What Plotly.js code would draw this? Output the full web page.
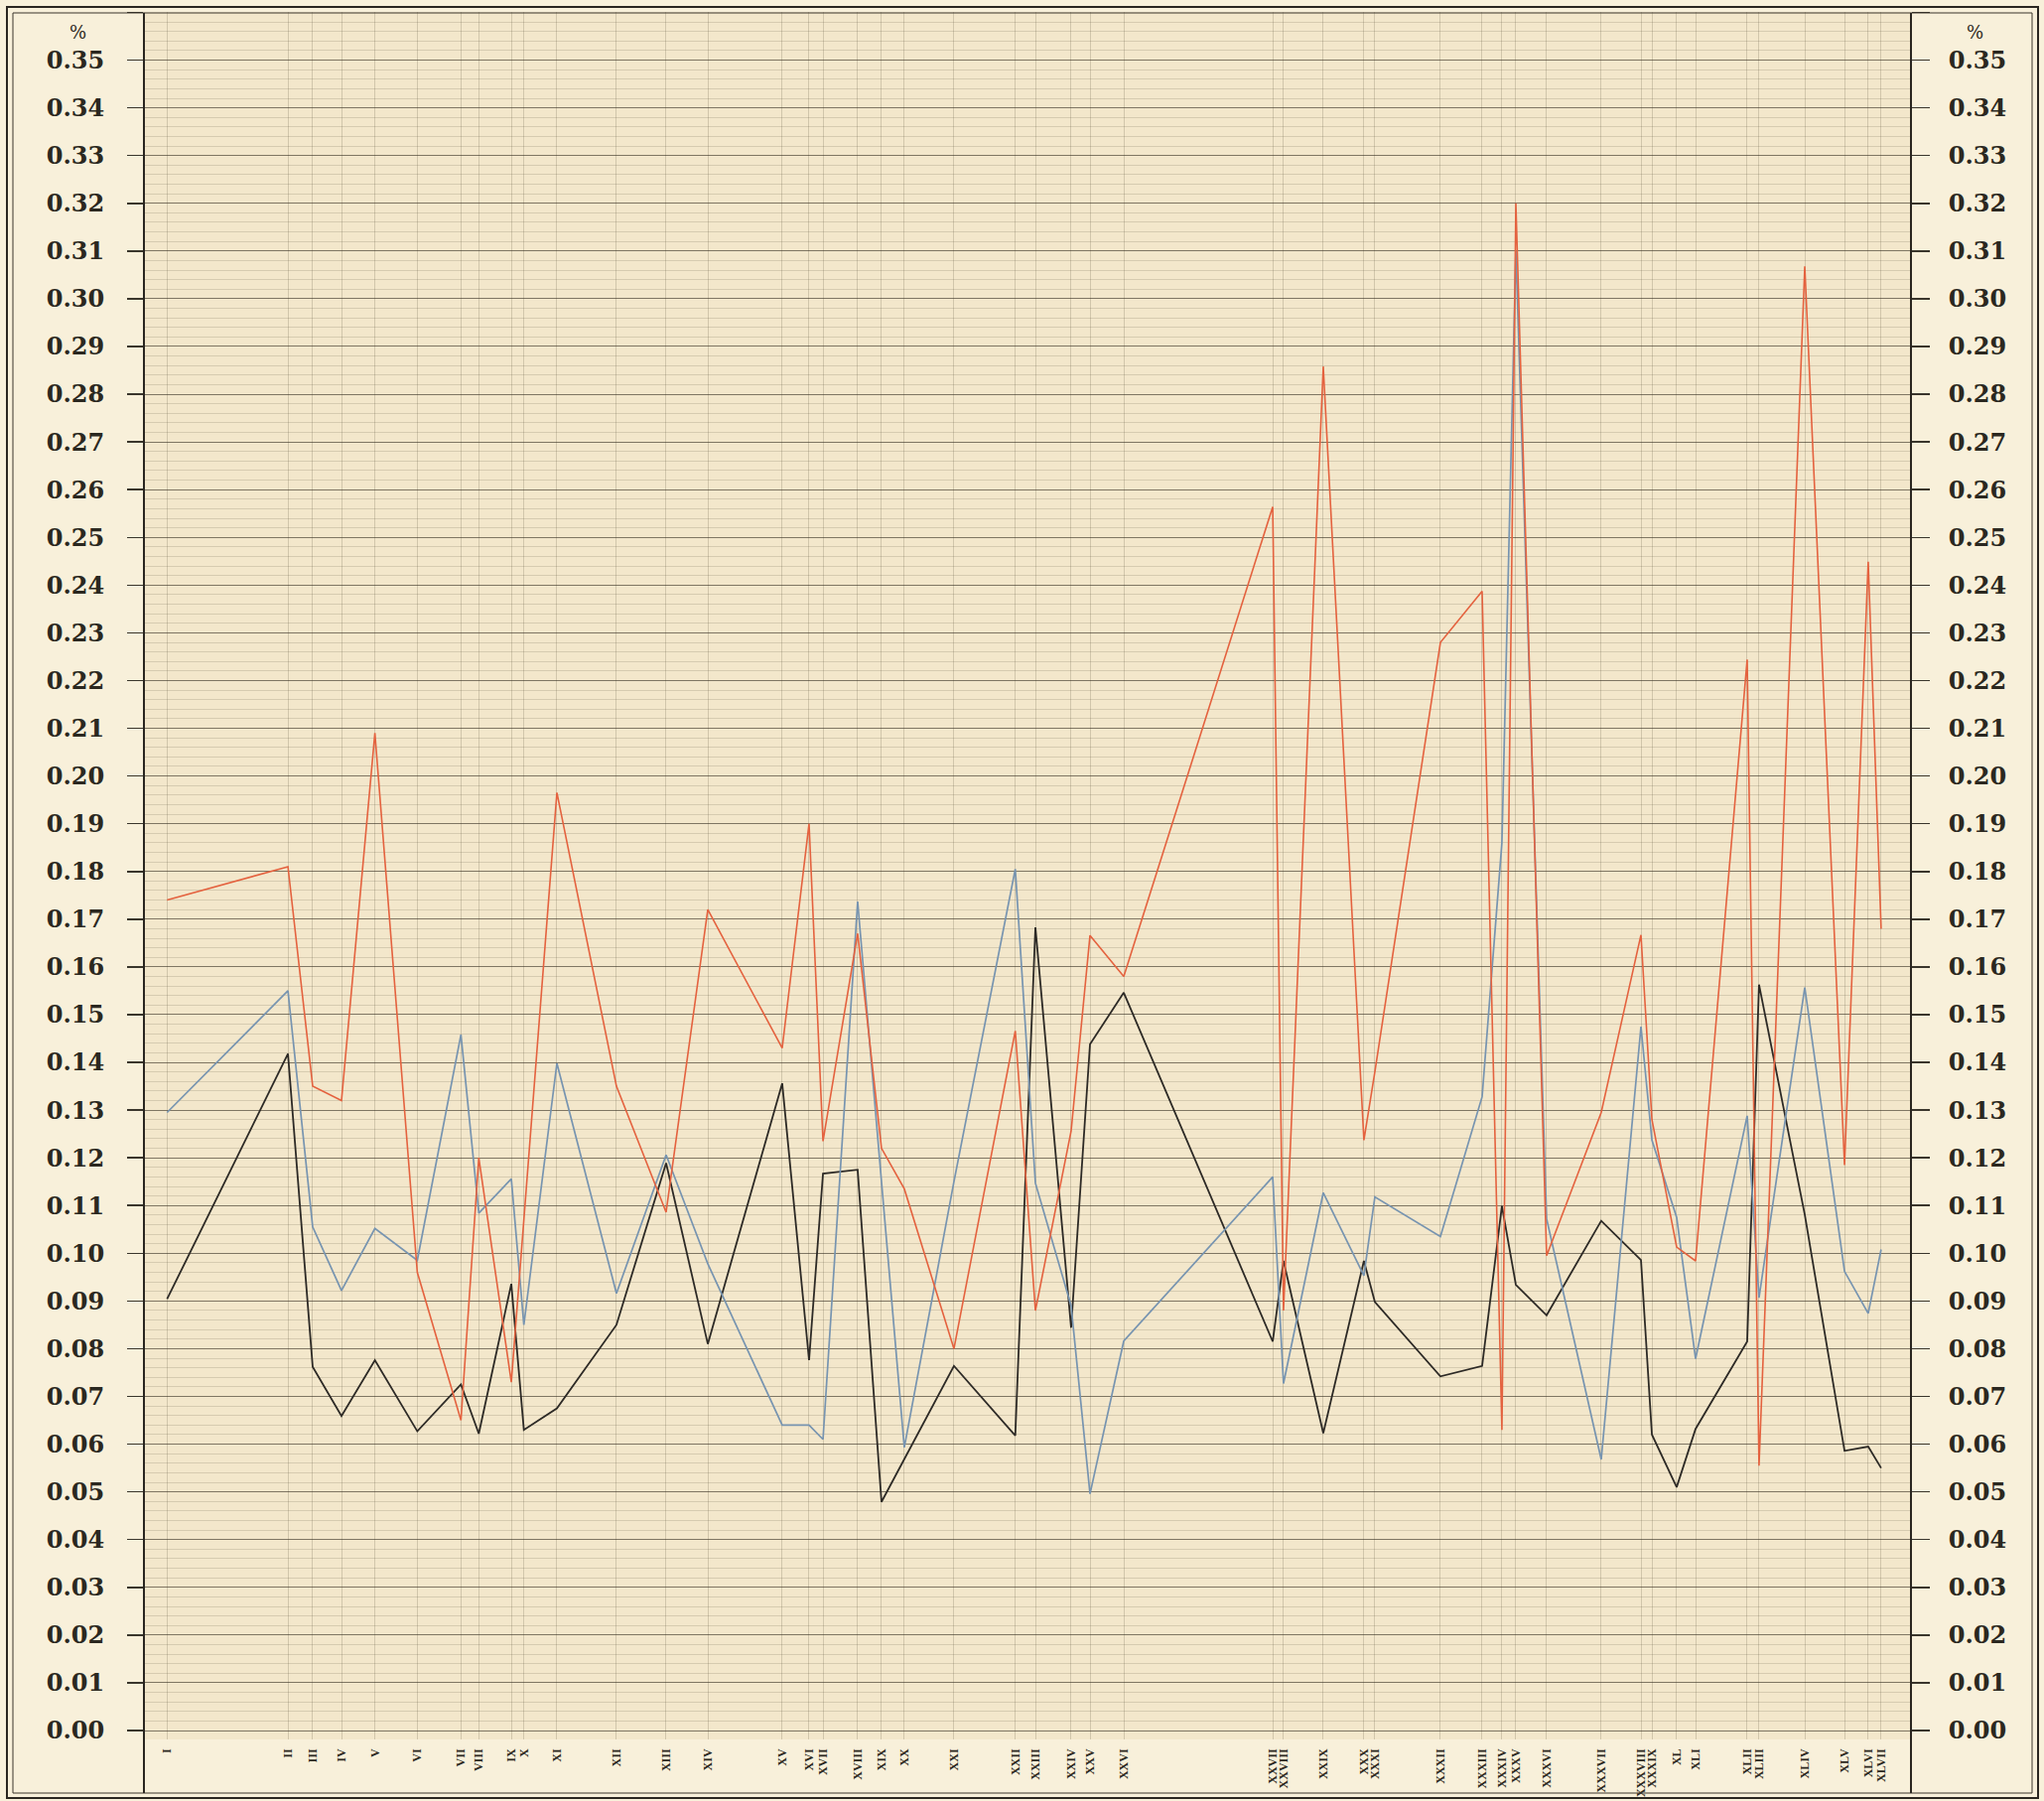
<!DOCTYPE html>
<html>
<head>
<meta charset="utf-8">
<script src="https://cdn.plot.ly/plotly-3.0.1.min.js"></script>
<style>
  html, body { margin: 0; padding: 0; background: #f8f0da; }
  #chart { width: 2059px; height: 1814px; }
</style>
</head>
<body>
<div id="chart"></div>
<script>
// ---- data ----
const categories = ['I','II','III','IV','V','VI','VII','VIII','IX','X',
  'XI','XII','XIII','XIV','XV','XVI','XVII','XVIII','XIX','XX',
  'XXI','XXII','XXIII','XXIV','XXV','XXVI','XXVII','XXVIII','XXIX','XXX',
  'XXXI','XXXII','XXXIII','XXXIV','XXXV','XXXVI','XXXVII','XXXVIII','XXXIX','XL',
  'XLI','XLII','XLIII','XLIV','XLV','XLVI','XLVII'];

// position of each numbered station along the horizontal scale (0–100)
const xPos = [1.31, 8.15, 9.55, 11.18, 13.07, 15.47, 17.94, 18.95, 20.79, 21.50,
  23.37, 26.74, 29.55, 31.91, 36.12, 37.64, 38.43, 40.39, 41.74, 43.03,
  45.84, 49.31, 50.45, 52.47, 53.54, 55.45, 63.88, 64.49, 66.74, 69.04,
  69.66, 73.37, 75.73, 76.85, 77.64, 79.38, 82.47, 84.72, 85.34, 86.74,
  87.81, 90.73, 91.40, 93.99, 96.24, 97.58, 98.31];

const redSeries = [0.174, 0.181, 0.135, 0.132, 0.209, 0.096, 0.065, 0.120, 0.073, 0.107,
  0.1965, 0.135, 0.1086, 0.172, 0.143, 0.190, 0.1235, 0.167, 0.122, 0.1135,
  0.080, 0.1466, 0.088, 0.1256, 0.1666, 0.158, 0.2564, 0.088, 0.2858, 0.1237,
  0.138, 0.228, 0.2387, 0.063, 0.320, 0.0995, 0.1295, 0.1667, 0.128, 0.1013,
  0.0984, 0.2244, 0.0555, 0.3068, 0.1185, 0.2449, 0.168];

const blueSeries = [0.1295, 0.155, 0.1055, 0.0922, 0.1052, 0.0985, 0.1458, 0.1084, 0.1156, 0.085,
  0.1398, 0.0916, 0.1206, 0.0978, 0.064, 0.064, 0.061, 0.1737, 0.115, 0.0593,
  0.115, 0.1805, 0.1147, 0.089, 0.0496, 0.0816, 0.116, 0.0727, 0.1127, 0.0953,
  0.1118, 0.1035, 0.1328, 0.186, 0.310, 0.1072, 0.0568, 0.1475, 0.1237, 0.1075,
  0.0779, 0.1288, 0.0907, 0.1557, 0.0962, 0.0874, 0.1008];

const blackSeries = [0.0904, 0.1418, 0.0762, 0.0659, 0.0776, 0.0627, 0.0725, 0.0622, 0.0936, 0.063,
  0.0675, 0.085, 0.1189, 0.081, 0.1356, 0.0776, 0.1167, 0.1175, 0.0479, 0.0568,
  0.0764, 0.0618, 0.1683, 0.0844, 0.1438, 0.1546, 0.0815, 0.0984, 0.0623, 0.0984,
  0.0898, 0.0742, 0.0764, 0.1099, 0.0934, 0.087, 0.1068, 0.0986, 0.062, 0.051,
  0.0632, 0.0815, 0.1563, 0.1081, 0.0586, 0.0595, 0.055];

const unitLabel = '%';

// ---- layout geometry (pixels of the page) ----
const W = 2059, H = 1814;
const PL = 145, PR = 1925, PT = 12, PB = 1752;
const px = x => (x - PL) / (PR - PL);
const py = y => (PB - y) / (PB - PT);

const INK = '#2b2820';
const serif = 'DejaVu Serif';

const traces = [
  { x: xPos, y: blackSeries, mode: 'lines', line: { color: '#2d2a26', width: 1.8 }, hoverinfo: 'skip', showlegend: false },
  { x: xPos, y: blueSeries, mode: 'lines', line: { color: '#7794b0', width: 1.7 }, hoverinfo: 'skip', showlegend: false },
  { x: xPos, y: redSeries, mode: 'lines', line: { color: '#e4623f', width: 1.6 }, hoverinfo: 'skip', showlegend: false },
  { x: [xPos[0]], y: [blackSeries[0]], yaxis: 'y2', mode: 'lines', line: { color: 'rgba(0,0,0,0)', width: 0 }, hoverinfo: 'skip', showlegend: false }
];

const yRange = [-0.00187, 0.3601];
const yTickFont = { family: serif, size: 24, color: INK, weight: 'bold' };

const frameLine = (x0, y0, x1, y1, w) => ({
  type: 'line', xref: 'paper', yref: 'paper',
  x0: px(x0), y0: py(y0), x1: px(x1), y1: py(y1),
  line: { color: '#2a2620', width: w }
});

const shapes = [
  // outer double border
  { type: 'rect', xref: 'paper', yref: 'paper', x0: px(7), y0: py(1811), x1: px(2053), y1: py(7),
    line: { color: '#2a2620', width: 2 } },
  { type: 'rect', xref: 'paper', yref: 'paper', x0: px(13), y0: py(1806), x1: px(2047), y1: py(13),
    line: { color: '#3a352b', width: 1 } },
  // columns separating the scales from the drawing
  frameLine(PL, 13, PL, 1806, 2),
  frameLine(PR, 13, PR, 1806, 2)
];

const layout = {
  width: W, height: H,
  margin: { l: PL, r: W - PR, t: PT, b: H - PB, pad: 0 },
  paper_bgcolor: '#f8f0da',
  plot_bgcolor: '#f3e7cb',
  showlegend: false,
  xaxis: {
    range: [0, 100],
    tickmode: 'array', tickvals: xPos, ticktext: categories,
    tickangle: -90,
    ticks: '', showline: false, zeroline: false,
    showgrid: true, gridcolor: 'rgba(90,80,60,0.22)', gridwidth: 1,
    tickfont: { family: 'Liberation Serif', size: 12, color: INK, weight: 'bold' },
    ticklabelstandoff: 6,
    fixedrange: true
  },
  yaxis: {
    range: yRange,
    tickmode: 'linear', tick0: 0, dtick: 0.01, tickformat: '.2f',
    ticks: 'outside', ticklen: 16, tickwidth: 1.5, tickcolor: '#3a362c',
    showline: false, zeroline: false,
    showgrid: true, gridcolor: 'rgba(55,48,35,0.62)', gridwidth: 1,
    minor: { dtick: 0.002, tick0: 0, showgrid: true, gridcolor: 'rgba(110,98,75,0.3)', gridwidth: 0.7, ticks: '' },
    tickfont: yTickFont,
    ticklabelstandoff: 18,
    fixedrange: true
  },
  yaxis2: {
    range: yRange, overlaying: 'y', side: 'right',
    tickmode: 'linear', tick0: 0, dtick: 0.01, tickformat: '.2f',
    ticks: 'outside', ticklen: 18, tickwidth: 1.5, tickcolor: '#3a362c',
    showline: false, zeroline: false, showgrid: false,
    tickfont: yTickFont,
    ticklabelstandoff: 14,
    fixedrange: true
  },
  shapes: shapes,
  annotations: [
    { xref: 'paper', yref: 'paper', x: px(78), y: py(33), text: unitLabel, showarrow: false,
      xanchor: 'center', yanchor: 'middle', font: { family: serif, size: 18, color: INK } },
    { xref: 'paper', yref: 'paper', x: px(1990), y: py(33), text: unitLabel, showarrow: false,
      xanchor: 'center', yanchor: 'middle', font: { family: serif, size: 18, color: INK } }
  ]
};

Plotly.newPlot('chart', traces, layout, { staticPlot: true, displayModeBar: false });
</script>
</body>
</html>
